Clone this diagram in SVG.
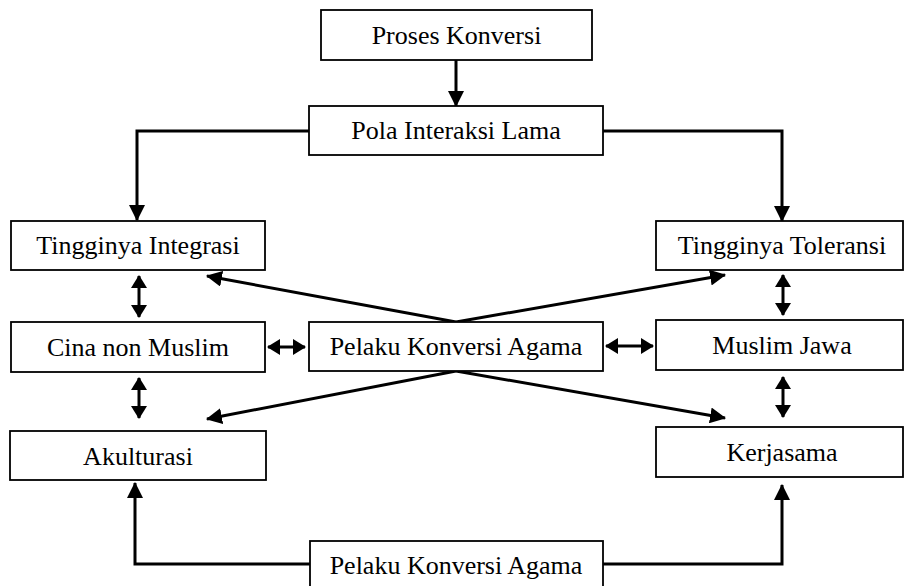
<svg xmlns="http://www.w3.org/2000/svg" width="904" height="586" viewBox="0 0 904 586">
<style>
.box{fill:#fff;stroke:#000;stroke-width:1.8}
.lbl{font-family:"Liberation Serif","DejaVu Serif",serif;font-size:26px;fill:#000;text-anchor:middle}
.c{fill:none;stroke:#000;stroke-width:3}
</style>
<defs>
<marker id="ah" markerUnits="userSpaceOnUse" markerWidth="16" markerHeight="16" viewBox="0 0 15 15" refX="14" refY="7.5" orient="auto-start-reverse">
<path d="M0,0 L15,7.5 L0,15 z" fill="#000"/>
</marker>
<marker id="as" markerUnits="userSpaceOnUse" markerWidth="14" markerHeight="16" viewBox="0 0 13 16" refX="12" refY="8" orient="auto-start-reverse">
<path d="M0,0 L13,8 L0,16 z" fill="#000"/>
</marker>
</defs>
<rect width="904" height="586" fill="#fff"/>
<g id="connectors">
<path class="c" d="M456,60 V106" marker-end="url(#ah)"/>
<path class="c" d="M309,131 H137 V220" marker-end="url(#ah)"/>
<path class="c" d="M603,131 H782 V221" marker-end="url(#ah)"/>
<path class="c" d="M456,322 L207,276" marker-end="url(#ah)"/>
<path class="c" d="M456,322 L725,275" marker-end="url(#ah)"/>
<path class="c" d="M456,371 L207,419" marker-end="url(#ah)"/>
<path class="c" d="M456,371 L725,418" marker-end="url(#ah)"/>
<path class="c" d="M139,276 V317" marker-start="url(#as)" marker-end="url(#as)"/>
<path class="c" d="M139,378 V418" marker-start="url(#as)" marker-end="url(#as)"/>
<path class="c" d="M783,275 V315" marker-start="url(#as)" marker-end="url(#as)"/>
<path class="c" d="M783,377 V417" marker-start="url(#as)" marker-end="url(#as)"/>
<path class="c" d="M268,347 H305" marker-start="url(#as)" marker-end="url(#as)"/>
<path class="c" d="M606,346 H653" marker-start="url(#as)" marker-end="url(#as)"/>
<path class="c" d="M310,564 H135 V483" marker-end="url(#ah)"/>
<path class="c" d="M603,564 H782 V485" marker-end="url(#ah)"/>
</g>
<g id="proses-konversi"><rect class="box" x="321" y="10" width="271" height="50"/><text class="lbl" x="456.5" y="44">Proses Konversi</text></g>
<g id="pola-interaksi"><rect class="box" x="309" y="106" width="294" height="49"/><text class="lbl" x="456" y="139">Pola Interaksi Lama</text></g>
<g id="tingginya-integrasi"><rect class="box" x="11" y="221" width="254" height="49"/><text class="lbl" x="138" y="254">Tingginya Integrasi</text></g>
<g id="tingginya-toleransi"><rect class="box" x="656" y="221" width="247" height="49"/><text class="lbl" x="782" y="254">Tingginya Toleransi</text></g>
<g id="cina-non-muslim"><rect class="box" x="11" y="322" width="254" height="50"/><text class="lbl" x="138" y="356">Cina non Muslim</text></g>
<g id="pelaku-konversi-tengah"><rect class="box" x="309" y="322" width="294" height="49"/><text class="lbl" x="456" y="355">Pelaku Konversi Agama</text></g>
<g id="muslim-jawa"><rect class="box" x="656" y="320" width="247" height="50"/><text class="lbl" x="782" y="354">Muslim Jawa</text></g>
<g id="akulturasi"><rect class="box" x="10" y="431" width="256" height="49"/><text class="lbl" x="138" y="465">Akulturasi</text></g>
<g id="kerjasama"><rect class="box" x="656" y="427" width="247" height="50"/><text class="lbl" x="782" y="461">Kerjasama</text></g>
<g id="pelaku-konversi-bawah"><rect class="box" x="310" y="541" width="293" height="60"/><text class="lbl" x="456" y="574">Pelaku Konversi Agama</text></g>
</svg>
